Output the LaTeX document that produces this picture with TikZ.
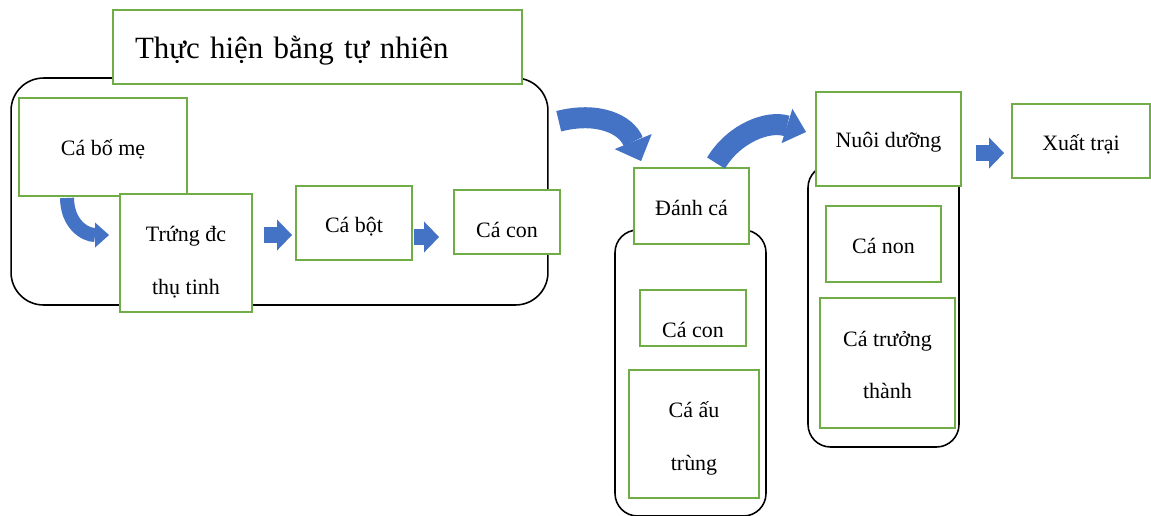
\documentclass[tikz,border=0pt]{standalone}
\usepackage{fontspec}
\setmainfont{Liberation Serif}
\usetikzlibrary{positioning}
\usetikzlibrary{arrows.meta}
\usetikzlibrary{calc}
\definecolor{boxgreen}{HTML}{70AD47}
\definecolor{arrowblue}{HTML}{4472C4}
% lower a text line without changing its box
\newcommand{\dropby}[2]{\raisebox{-#1}[\height][\depth]{#2}}

\begin{document}
\begin{tikzpicture}[x=0.02cm, y=-0.02cm,
    box/.style={draw=boxgreen, line width=1.1pt, fill=white, align=center, inner sep=0pt, font=\fontsize{12.5}{15}\selectfont},
    stage/.style={draw=black, line width=0.9pt, rounded corners=#1, inner sep=0pt},
    blockarrow/.style={arrowblue, line width=0.32cm, -{Triangle[length=0.3cm, width=0.62cm, line width=0pt]}},
    bentarrow/.style n args={3}{arrowblue, line width=#1, -{Triangle[length=#2, width=#3, line width=0pt]}}]
    \useasboundingbox (0,0) rectangle (1151,515);

    % Natural spawning
    \node[stage=0.65cm, minimum width=10.74cm, minimum height=4.54cm] (nat) at (279.5,191.5) {};
    \node[box, minimum width=8.18cm, minimum height=1.48cm, text width=7.3cm, inner xsep=0.44cm, align=left, font=\fontsize{17.6}{22}\selectfont] (title) at (317.5,47) {\dropby{0.08cm}{Thực hiện bằng tự nhiên}};
    \node[box, minimum width=3.36cm, minimum height=1.96cm] (bome) at (103,147) {\dropby{0.04cm}{Cá bố mẹ}};
    \node[box, minimum width=2.64cm, minimum height=2.36cm] (trung) at (186,253) {\dropby{0.18cm}{Trứng đc}\\[0.53cm]\dropby{0.18cm}{thụ tinh}};
    \node[box, minimum width=2.32cm, minimum height=1.48cm] (bot) at (354,223) {\dropby{0.08cm}{Cá bột}};
    \node[box, minimum width=2.12cm, minimum height=1.28cm] (con) at (507,222) {\dropby{0.16cm}{Cá con}};

    % Catching
    \node[stage=0.45cm, minimum width=3.02cm, minimum height=5.72cm] (catch) at (690.5,373) {};
    \node[box, minimum width=2.3cm, minimum height=1.52cm] (danhca) at (691.5,206) {\dropby{0.04cm}{Đánh cá}};
    \node[box, minimum width=2.12cm, minimum height=1.12cm] (con2) at (693,318) {\dropby{0.24cm}{Cá con}};
    \node[box, minimum width=2.6cm, minimum height=2.56cm] (autrung) at (694,434) {\dropby{0.08cm}{Cá ấu}\\[0.53cm]\dropby{0.08cm}{trùng}};

    % Rearing
    \node[stage=0.45cm, minimum width=3.02cm, minimum height=5.64cm] (rear) at (883.5,306) {};
    \node[box, minimum width=2.9cm, minimum height=1.88cm] (nuoi) at (888.5,139) {\dropby{0.06cm}{Nuôi dưỡng}};
    \node[box, minimum width=2.3cm, minimum height=1.52cm] (non) at (883.5,244) {\dropby{0.04cm}{Cá non}};
    \node[box, minimum width=2.7cm, minimum height=2.6cm] (truong) at (887.5,363) {\dropby{0.04cm}{Cá trưởng}\\[0.53cm]\dropby{0.04cm}{thành}};
    \node[box, minimum width=2.76cm, minimum height=1.48cm] (xuat) at (1081,141) {\dropby{0.06cm}{Xuất trại}};

    \draw[blockarrow] ($(trung.east)+(11,-18)$) -- ($(bot.west)+(-3,12)$);
    \draw[blockarrow] ($(bot.east)+(1,14)$) -- ($(con.west)+(-14,15)$);
    \draw[blockarrow] ($(nuoi.east)+(14,14)$) -- ($(xuat.west)+(-7,12)$);

    \draw[bentarrow={0.28cm}{0.28cm}{0.5cm}] ($(bome.south west)+(49,1)$) .. controls +(0,25) and +(-25,0) .. ($(trung.west)+(-10,-18)$);
    \draw[bentarrow={0.42cm}{0.42cm}{0.8cm}] ($(nat.north east)+(10,44)$) .. controls +(39,-10) and +(-15,-37) .. ($(danhca.north west)+(8,-6)$);
    \draw[bentarrow={0.42cm}{0.4cm}{0.72cm}] ($(danhca.north)+(24.5,-4)$) .. controls +(18,-30) and +(-38,-12) .. ($(nuoi.west)+(-9,-7)$);
\end{tikzpicture}
\end{document}
